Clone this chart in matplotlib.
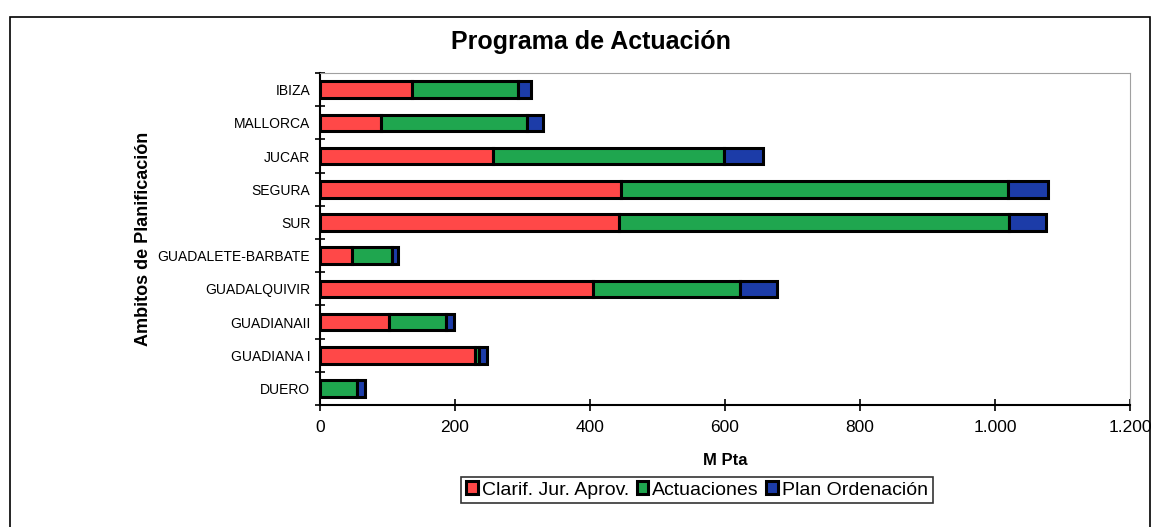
import matplotlib.pyplot as plt
from matplotlib.patches import Rectangle
import numpy as np

plt.rcParams["font.family"] = ["Liberation Sans", "DejaVu Sans"]

ambitos = ["DUERO", "GUADIANA I", "GUADIANAII", "GUADALQUIVIR", "GUADALETE-BARBATE",
           "SUR", "SEGURA", "JUCAR", "MALLORCA", "IBIZA"]
clarif = [0, 229, 102, 404, 47, 443, 446, 257, 90, 137]
actuaciones = [55, 7, 85, 218, 59, 577, 573, 342, 216, 156]
plan = [11, 11, 12, 55, 10, 55, 59, 58, 24, 19]
series_names = ["Clarif. Jur. Aprov.", "Actuaciones", "Plan Ordenación"]
colors = ["#ff4848", "#1fa64f", "#1c3ca8"]
xticks = [0, 200, 400, 600, 800, 1000, 1200]
xtick_labels = ["0", "200", "400", "600", "800", "1.000", "1.200"]

fig = plt.figure(figsize=(11.56, 5.27), dpi=100)
ax = fig.add_axes([320 / 1156, 1 - 405 / 527, 810 / 1156, 332 / 527])

y = np.arange(len(ambitos))
left = np.zeros(len(ambitos))
for vals, name, col in zip([clarif, actuaciones, plan], series_names, colors):
    ax.barh(y, vals, left=left, height=0.5, color=col, edgecolor="black",
            linewidth=2.2, label=name)
    left += np.array(vals)

ax.set_xlim(0, 1200)
ax.set_ylim(-0.5, len(ambitos) - 0.5)
ax.set_xticks(xticks)
ax.set_xticklabels(xtick_labels, fontsize=12.5)
ax.set_yticks(y)
ax.set_yticklabels(ambitos, fontsize=10)
ax.set_yticks(np.arange(len(ambitos) + 1) - 0.5, minor=True)
ax.tick_params(axis="y", which="major", length=0, pad=7)
ax.tick_params(axis="y", which="minor", direction="inout", length=7, width=1.2)
ax.tick_params(axis="x", direction="inout", length=8, width=1.2, pad=7)

ax.spines["left"].set_linewidth(1.5)
ax.spines["bottom"].set_linewidth(1.5)
for s in ["top", "right"]:
    ax.spines[s].set_linestyle((0, (1, 1)))
    ax.spines[s].set_color("#a0a0a0")

ax.set_xlabel("M Pta", fontsize=12, fontweight="bold", labelpad=13)
ax.set_ylabel("Ambitos de Planificación", fontsize=13, fontweight="bold", labelpad=4)
fig.text(0.511, 1 - 42 / 527, "Programa de Actuación", ha="center", va="center",
         fontsize=18, fontweight="bold")

leg = ax.legend(loc="center", bbox_to_anchor=(697 / 1156, 1 - 490 / 527),
                bbox_transform=fig.transFigure, ncol=3, fontsize=14, frameon=True,
                fancybox=False, edgecolor="black", handlelength=0.6, handleheight=0.6,
                handletextpad=0.2, columnspacing=0.4, borderpad=0.25, borderaxespad=0)
leg.get_frame().set_linewidth(1.2)

fig.patches.append(Rectangle((10 / 1156, -0.1), 1140 / 1156, 1.1 - 17 / 527,
                             transform=fig.transFigure, fill=False,
                             edgecolor="black", linewidth=1.2))

fig.savefig("out.png", dpi=100)
